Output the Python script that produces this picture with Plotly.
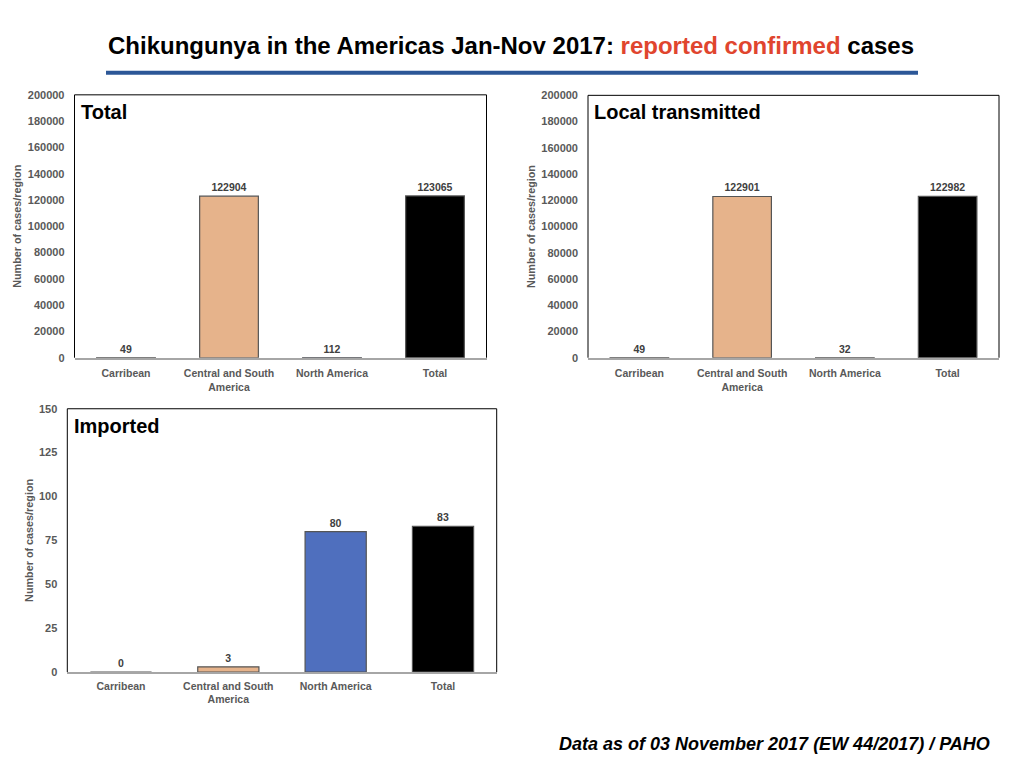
import plotly.graph_objects as go

categories = ["Carribean", "Central and South<br>America", "North America", "Total"]
total_values = [49, 122904, 112, 123065]
local_values = [49, 122901, 32, 122982]
imported_values = [0, 3, 80, 83]
bar_colors = ["#A6A6A6", "#E6B38B", "#4F6FBE", "#000000"]
panel_titles = ["Total", "Local transmitted", "Imported"]
big_ticks = [0, 20000, 40000, 60000, 80000, 100000, 120000, 140000, 160000, 180000, 200000]
small_ticks = [0, 25, 50, 75, 100, 125, 150]

W, H = 1024, 768
def py(y):
    # vertical pixel -> paper fraction (compensated for page rendering)
    return 1 - ((y - 5.7) / 0.984) / H
def dx(a, b):
    return [a / W, b / W]
def dy(top, bottom):
    return [py(bottom), py(top)]

panels = [
    dict(vals=total_values, xd=dx(74.5, 486.5), yd=dy(94.5, 357.3), rng=[0, 200000], ticks=big_ticks, title=panel_titles[0]),
    dict(vals=local_values, xd=dx(588, 999), yd=dy(95, 357.3), rng=[0, 200000], ticks=big_ticks, title=panel_titles[1]),
    dict(vals=imported_values, xd=dx(67.3, 496.7), yd=dy(408.3, 671.5), rng=[0, 150], ticks=small_ticks, title=panel_titles[2]),
]

FONT = "Liberation Sans"
fig = go.Figure()
tick_font = dict(family=FONT, size=11, color="#595959", weight="bold")
cat_font = dict(family=FONT, size=10.5, color="#595959", weight="bold")
shapes = []
annotations = []
for i, p in enumerate(panels, start=1):
    xa = "x" if i == 1 else f"x{i}"
    ya = "y" if i == 1 else f"y{i}"
    fig.add_trace(go.Bar(
        x=categories, y=p["vals"], xaxis=xa, yaxis=ya,
        marker=dict(color=bar_colors, line=dict(color="#555555", width=1.2)),
        width=0.57,
        text=[str(v) for v in p["vals"]], textposition="outside",
        textfont=dict(family=FONT, size=10.5, color="#404040", weight="bold"),
        cliponaxis=False, showlegend=False, hoverinfo="skip",
    ))
    xkey = "xaxis" if i == 1 else f"xaxis{i}"
    ykey = "yaxis" if i == 1 else f"yaxis{i}"
    fig.update_layout(**{
        xkey: dict(domain=p["xd"], anchor=ya, showline=True, linecolor="#A6A6A6", linewidth=2,
                   ticks="", tickfont=cat_font, showgrid=False, fixedrange=True,
                   ticklabelstandoff=(5 if i < 3 else 3)),
        ykey: dict(domain=p["yd"], anchor=xa, range=p["rng"], tickvals=p["ticks"],
                   ticktext=[str(t) for t in p["ticks"]], fixedrange=True,
                   showgrid=False, zeroline=False, showline=False, ticks="",
                   tickfont=tick_font, ticklabelstandoff=9,
                   title=dict(text="Number of cases/region",
                              font=dict(family=FONT, size=10.8, color="#595959", weight="bold"), standoff=3)),
    })
    xdom = ("x domain" if i == 1 else f"x{i} domain")
    ydom = ("y domain" if i == 1 else f"y{i} domain")
    shapes.append(dict(type="line", xref=xdom, yref=ydom, x0=0, x1=0, y0=0, y1=1, line=dict(color="#000000", width=1)))
    shapes.append(dict(type="line", xref=xdom, yref=ydom, x0=1, x1=1, y0=0, y1=1, line=dict(color="#000000", width=1)))
    shapes.append(dict(type="line", xref=xdom, yref=ydom, x0=0, x1=1, y0=1, y1=1, line=dict(color="#000000", width=1)))
    annotations.append(dict(text="<b>" + p["title"] + "</b>", xref=xdom, yref=ydom, x=0.01, y=0.985,
                            xanchor="left", yanchor="top", showarrow=False,
                            font=dict(family=FONT, size=20, color="#000000")))

# title
annotations.append(dict(text="<b>Chikungunya in the Americas Jan-Nov 2017: <span style='color:#E0452E'>reported confirmed</span> cases</b>",
                        xref="paper", yref="paper", x=(108 + 913) / 2 / W, y=py(45), xanchor="center", yanchor="middle",
                        showarrow=False, font=dict(family=FONT, size=24, color="#000000")))
shapes.append(dict(type="line", xref="paper", yref="paper", x0=106 / W, x1=918 / W, y0=py(72.5), y1=py(72.5),
                   line=dict(color="#2C5797", width=4)))
annotations.append(dict(text="<b><i>Data as of 03 November 2017 (EW 44/2017) / PAHO</i></b>",
                        xref="paper", yref="paper", x=992 / W, y=py(743), xanchor="right", yanchor="middle",
                        showarrow=False, font=dict(family=FONT, size=18, color="#000000")))

fig.update_layout(width=W, height=H, margin=dict(l=0, r=0, t=0, b=0),
                  paper_bgcolor="white", plot_bgcolor="white", hovermode=False,
                  shapes=shapes, annotations=annotations, bargap=0.43)
fig.write_html("out.html", config={"displayModeBar": False},
               post_script="document.body.style.margin='0';document.body.style.overflow='hidden';")
